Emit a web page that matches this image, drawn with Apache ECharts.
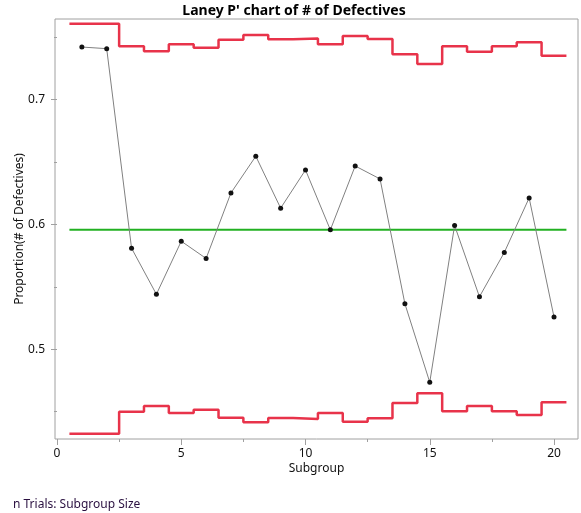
<!DOCTYPE html>
<html>
<head>
<meta charset="utf-8">
<script src="https://cdn.jsdelivr.net/npm/echarts@6/dist/echarts.min.js"></script>
<style>
html, body { margin: 0; padding: 0; background: #fff; }
#box { width: 581px; height: 513px; }
</style>
</head>
<body>
<div id="box"></div>
<script>
// data
var subgroups = [1, 2, 3, 4, 5, 6, 7, 8, 9, 10, 11, 12, 13, 14, 15, 16, 17, 18, 19, 20];
var proportions = [0.7422, 0.7409, 0.5810, 0.5441, 0.5866, 0.5728, 0.6253, 0.6547, 0.6131, 0.6437,
                   0.5957, 0.6469, 0.6365, 0.5365, 0.4736, 0.5992, 0.5421, 0.5776, 0.6213, 0.5259];
var ucl = [0.7609, 0.7609, 0.7428, 0.7388, 0.7444, 0.7417, 0.7481, 0.7518, 0.7484, 0.7490,
           0.7444, 0.7510, 0.7486, 0.7364, 0.7286, 0.7428, 0.7385, 0.7428, 0.7460, 0.7353];
var lcl = [0.4324, 0.4324, 0.4500, 0.4546, 0.4490, 0.4516, 0.4452, 0.4415, 0.4450, 0.4441,
           0.4490, 0.4420, 0.4447, 0.4570, 0.4647, 0.4503, 0.4546, 0.4503, 0.4474, 0.4575];
var centerLine = 0.5957;
var xTicks = [0, 5, 10, 15, 20];
var yTicks = [0.5, 0.6, 0.7];

var font = 'Noto Sans';
var grey = '#a0a0a0';
var red = '#e8334a';

// frame of the plot, in pixels
var frame = { left: 55, right: 578, top: 19, bottom: 439 };
var W = 581, H = 513;
// where the ticks sit
var x0px = 57, xUnit = 24.85;        // px per subgroup
var y05px = 349.3, yUnit = 1248;     // px per 1.0 of proportion

function xAt(px) { return (px - x0px) / xUnit; }
function yAt(px) { return 0.5 + (y05px - px) / yUnit; }
function yPx(v) { return y05px - (v - 0.5) * yUnit; }
function xPx(v) { return x0px + v * xUnit; }

// step lines: each limit covers subgroup i-0.5 .. i+0.5
function steps(vals) {
    var out = [];
    for (var i = 0; i < vals.length; i++) out.push([subgroups[i] - 0.5, vals[i]]);
    out.push([subgroups[vals.length - 1] + 0.5, vals[vals.length - 1]]);
    return out;
}

var myChart = echarts.init(document.getElementById('box'), null, { renderer: 'canvas' });

var xFirst = xTicks[0], xLast = xTicks[xTicks.length - 1];
var yLow = yTicks[0] - 0.05, yHigh = yTicks[yTicks.length - 1] + 0.05;

var option = {
    animation: false,
    textStyle: { fontFamily: font },
    title: [{
        text: "Laney P' chart of # of Defectives",
        left: 289,
        top: -1,
        textAlign: 'center',
        textStyle: { fontFamily: font, fontSize: 14, fontWeight: 'bold', color: '#000' }
    }, {
        text: 'n Trials: Subgroup Size',
        left: 8,
        top: 494,
        textStyle: { fontFamily: font, fontSize: 12, fontWeight: 'normal', color: '#2a1040' }
    }],
    grid: [{
        // data grid with the frame
        left: frame.left, right: W - frame.right, top: frame.top, bottom: H - frame.bottom,
        show: true, borderColor: grey, borderWidth: 1, containLabel: false
    }, {
        // x ticks and minor y ticks
        left: xPx(xFirst), right: W - xPx(xLast), top: yPx(yHigh), bottom: H - yPx(yLow),
        containLabel: false
    }, {
        // major y ticks and labels
        left: xPx(xFirst), right: W - xPx(xLast), top: yPx(yTicks[yTicks.length - 1]), bottom: H - yPx(yTicks[0]),
        containLabel: false
    }],
    xAxis: [{
        gridIndex: 0, type: 'value',
        min: xAt(frame.left), max: xAt(frame.right),
        axisLine: { show: false }, axisTick: { show: false }, axisLabel: { show: false },
        splitLine: { show: false },
        name: 'Subgroup', nameLocation: 'middle', nameGap: 24,
        nameTextStyle: { fontFamily: font, fontSize: 12, color: '#111' }
    }, {
        gridIndex: 1, type: 'value',
        min: xFirst, max: xLast, interval: 5,
        offset: frame.bottom - yPx(yLow),
        axisLine: { show: false },
        axisTick: { show: true, length: 6, lineStyle: { color: grey } },
        minorTick: { show: true, splitNumber: 2, length: 3, lineStyle: { color: grey } },
        axisLabel: { margin: 9, fontFamily: font, fontSize: 12, color: '#111' },
        splitLine: { show: false }
    }, {
        gridIndex: 2, type: 'value', min: xFirst, max: xLast, show: false
    }],
    yAxis: [{
        gridIndex: 0, type: 'value',
        min: yAt(frame.bottom), max: yAt(frame.top),
        axisLine: { show: false }, axisTick: { show: false }, axisLabel: { show: false },
        splitLine: { show: false },
        name: 'Proportion(# of Defectives)', nameLocation: 'middle', nameGap: 29,
        nameTextStyle: { fontFamily: font, fontSize: 12, color: '#111' }
    }, {
        gridIndex: 1, type: 'value',
        min: yLow, max: yHigh, interval: 0.05,
        offset: xPx(xFirst) - frame.left,
        axisLine: { show: false },
        axisTick: { show: true, length: 3, lineStyle: { color: grey } },
        axisLabel: { show: false },
        splitLine: { show: false }
    }, {
        gridIndex: 2, type: 'value',
        min: yTicks[0], max: yTicks[yTicks.length - 1], interval: 0.1,
        offset: xPx(xFirst) - frame.left,
        axisLine: { show: false },
        axisTick: { show: true, length: 6, lineStyle: { color: grey } },
        axisLabel: { margin: 10, fontFamily: font, fontSize: 12, color: '#111' },
        splitLine: { show: false }
    }],
    series: [{
        name: 'UCL', type: 'line', xAxisIndex: 0, yAxisIndex: 0,
        step: 'end', symbol: 'none',
        lineStyle: { color: red, width: 2.5 },
        data: steps(ucl)
    }, {
        name: 'LCL', type: 'line', xAxisIndex: 0, yAxisIndex: 0,
        step: 'end', symbol: 'none',
        lineStyle: { color: red, width: 2.5 },
        data: steps(lcl)
    }, {
        name: 'Center', type: 'line', xAxisIndex: 0, yAxisIndex: 0,
        symbol: 'none',
        lineStyle: { color: '#22b022', width: 2 },
        data: [[subgroups[0] - 0.5, centerLine], [subgroups[subgroups.length - 1] + 0.5, centerLine]]
    }, {
        name: 'Proportion', type: 'line', xAxisIndex: 0, yAxisIndex: 0,
        symbol: 'circle', symbolSize: 5,
        itemStyle: { color: '#111' },
        lineStyle: { color: '#808080', width: 1 },
        data: subgroups.map(function(s, i) { return [s, proportions[i]]; })
    }]
};
myChart.setOption(option);
</script>
</body>
</html>
